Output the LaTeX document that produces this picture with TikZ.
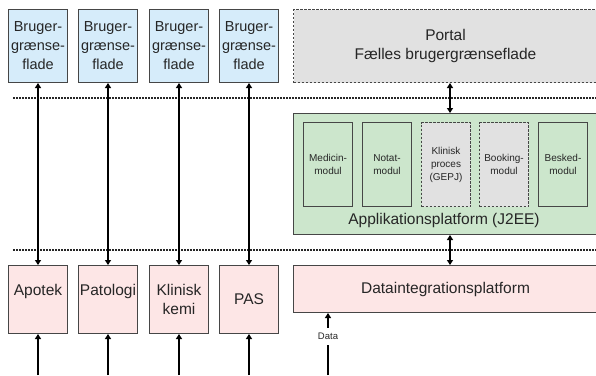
\documentclass[tikz,border=0pt]{standalone}
\usepackage{fontspec}
\setmainfont{Liberation Sans}
\usetikzlibrary{arrows.meta}
\definecolor{bluef}{RGB}{214,236,250}
\definecolor{pinkf}{RGB}{253,230,230}
\definecolor{greenf}{RGB}{204,230,204}
\definecolor{grayf}{RGB}{225,225,225}
\definecolor{edgec}{RGB}{70,70,70}
\definecolor{txt}{RGB}{38,38,38}
\begin{document}
\begin{tikzpicture}[x=1pt,y=-1pt,
  box/.style={draw=edgec, line width=1pt, inner sep=0pt, align=center, text=txt,
    font=\fontsize{15.5}{19}\selectfont},
  bluebox/.style={box, fill=bluef, minimum width=59pt, minimum height=73pt,
    font=\fontsize{14.5}{19}\selectfont},
  pinkbox/.style={box, fill=pinkf, minimum width=59pt, minimum height=68pt},
  widebox/.style={box, minimum width=304pt},
  modbox/.style={box, fill=greenf, minimum width=49pt, minimum height=84pt,
    font=\fontsize{10}{13}\selectfont},
  dashbox/.style={dash pattern=on 2.5pt off 1.5pt},
  sep/.style={line width=1.8pt, dash pattern=on 1.7pt off 1.3pt, black!85},
  arr/.style={line width=2pt, black, {Triangle[length=5pt,width=6pt]}-{Triangle[length=5pt,width=6pt]}},
  uparr/.style={line width=2pt, black, -{Triangle[length=5pt,width=6pt]}},
  plain/.style={line width=2pt, black}
]
\useasboundingbox (0,0) rectangle (596,375);

% separators
\coordinate (s1a) at (13,98);  \coordinate (s1b) at (596,98);
\coordinate (s2a) at (13,250); \coordinate (s2b) at (596,250);
\draw[sep] (s1a) -- (s1b);
\draw[sep] (s2a) -- (s2b);

% user interface boxes
\node[bluebox] (u1) at (38,46) {Bruger-\\grænse-\\flade};
\node[bluebox] (u2) at (108,46) {Bruger-\\grænse-\\flade};
\node[bluebox] (u3) at (179,46) {Bruger-\\grænse-\\flade};
\node[bluebox] (u4) at (249,46) {Bruger-\\grænse-\\flade};

% system boxes
\node[pinkbox] (p1) at (38,299.5) {Apotek\\\mbox{}};
\node[pinkbox] (p2) at (108,299.5) {Patologi\\\mbox{}};
\node[pinkbox] (p3) at (179,299.5) {Klinisk\\kemi};
\node[pinkbox] (p4) at (249,299.5) {PAS};

% portal
\node[widebox, fill=grayf, dashbox, minimum height=73pt] (portal) at (445.5,46) {Portal\\Fælles brugergrænseflade};

% application platform
\node[widebox, fill=greenf, minimum height=121pt] (app) at (445.5,174) {};
\node[text=txt, font=\fontsize{15.5}{19}\selectfont, inner sep=0pt] (applbl) at (444,220) {Applikationsplatform (J2EE)};
\node[modbox] (m1) at (328,164.5) {Medicin-\\modul};
\node[modbox] (m2) at (387,164.5) {Notat-\\modul};
\node[modbox, fill=grayf, dashbox] (m3) at (446,164.5) {Klinisk\\proces\\(GEPJ)};
\node[modbox, fill=grayf, dashbox] (m4) at (504,164.5) {Booking-\\modul};
\node[modbox] (m5) at (563,164.5) {Besked-\\modul};

% data integration platform
\node[widebox, fill=pinkf, minimum height=47pt] (data) at (445.5,289) {Dataintegrationsplatform};

% arrows between layers
\foreach \i in {1,...,4} {
  \draw[arr] (u\i.south) -- (p\i.north);
}
\coordinate (q1) at (38,375);
\coordinate (q2) at (108,375);
\coordinate (q3) at (179,375);
\coordinate (q4) at (249,375);
\foreach \i in {1,...,4} {
  \draw[uparr] (q\i) -- (p\i.south);
}
\draw[arr] ([xshift=4.5pt]portal.south) -- ([xshift=4.5pt]app.north);
\draw[arr] ([xshift=4.5pt]app.south) -- ([xshift=4.5pt]data.north);

% data input
\coordinate (d0) at (328,375);
\node[text=txt, font=\fontsize{9.5}{11}\selectfont, inner xsep=0pt, inner ysep=5pt] (dl) at (328,336.5) {Data};
\draw[plain] (d0) -- (dl.south);
\draw[uparr] (dl.north) -- (dl.north |- data.south);
\end{tikzpicture}
\end{document}
